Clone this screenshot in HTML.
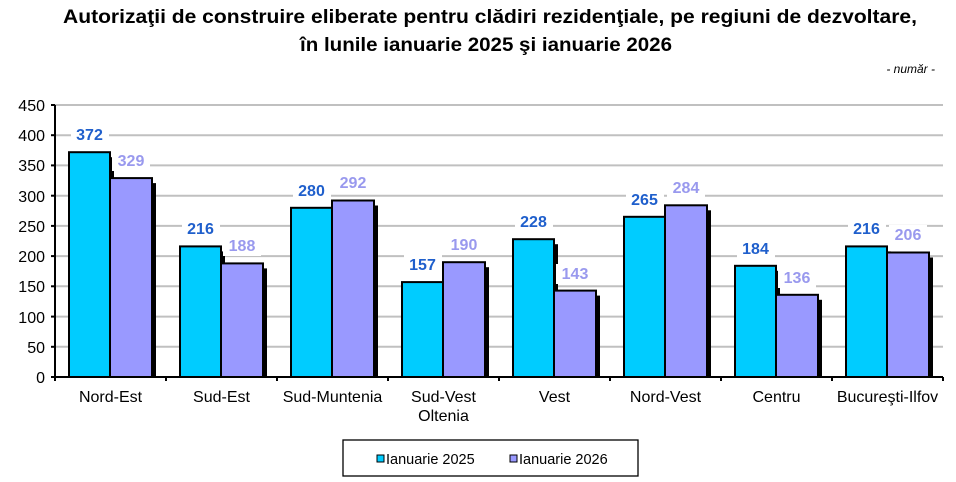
<!DOCTYPE html>
<html><head><meta charset="utf-8"><style>body{margin:0;background:#fff}svg{display:block}</style></head><body>
<svg width="956" height="482" xmlns="http://www.w3.org/2000/svg" font-family="Liberation Sans, Arial, sans-serif">
<text x="490" y="23" text-anchor="middle" font-weight="bold" font-size="19" textLength="854" lengthAdjust="spacingAndGlyphs">Autorizaţii de construire eliberate pentru clădiri rezidenţiale, pe regiuni de dezvoltare,</text>
<text x="486" y="51" text-anchor="middle" font-weight="bold" font-size="19" textLength="372" lengthAdjust="spacingAndGlyphs">în lunile ianuarie 2025 şi ianuarie 2026</text>
<text x="935" y="73" text-anchor="end" font-style="italic" font-size="12">- număr -</text>
<g stroke="#c0c0c0" stroke-width="2">
<line x1="55" x2="943" y1="105" y2="105"/><line x1="55" x2="943" y1="135.2" y2="135.2"/><line x1="55" x2="943" y1="165.4" y2="165.4"/><line x1="55" x2="943" y1="195.7" y2="195.7"/><line x1="55" x2="943" y1="225.9" y2="225.9"/><line x1="55" x2="943" y1="256.1" y2="256.1"/><line x1="55" x2="943" y1="286.3" y2="286.3"/><line x1="55" x2="943" y1="316.6" y2="316.6"/><line x1="55" x2="943" y1="346.8" y2="346.8"/>
</g>
<g font-size="16" text-anchor="end">
<text x="45" y="111">450</text><text x="45" y="141">400</text><text x="45" y="171">350</text><text x="45" y="202">300</text><text x="45" y="232">250</text><text x="45" y="262">200</text><text x="45" y="292">150</text><text x="45" y="323">100</text><text x="45" y="353">50</text><text x="45" y="383">0</text>
</g>
<!-- shadows -->
<g fill="#000">
<rect x="73" y="157.2" width="41" height="219.8"/><rect x="114" y="183.1" width="42" height="193.9"/>
<rect x="184" y="251.4" width="41" height="125.6"/><rect x="225" y="268.4" width="42" height="108.6"/>
<rect x="295" y="212.8" width="41" height="164.2"/><rect x="336" y="205.5" width="42" height="171.5"/>
<rect x="406" y="287.1" width="41" height="89.9"/><rect x="447" y="267.2" width="42" height="109.8"/>
<rect x="517" y="244.2" width="41" height="132.8"/><rect x="558" y="295.6" width="42" height="81.4"/>
<rect x="628" y="221.8" width="41" height="155.2"/><rect x="669" y="210.3" width="42" height="166.7"/>
<rect x="739" y="270.8" width="41" height="106.2"/><rect x="780" y="299.8" width="42" height="77.2"/>
<rect x="850" y="251.4" width="41" height="125.6"/><rect x="891" y="257.5" width="42" height="119.5"/>
</g>
<g stroke="#000" stroke-width="2">
<g fill="#00ccff">
<rect x="69" y="152.2" width="41" height="224.8"/><rect x="180" y="246.4" width="41" height="130.6"/><rect x="291" y="207.8" width="41" height="169.2"/><rect x="402" y="282.1" width="41" height="94.9"/><rect x="513" y="239.2" width="41" height="137.8"/><rect x="624" y="216.8" width="41" height="160.2"/><rect x="735" y="265.8" width="41" height="111.2"/><rect x="846" y="246.4" width="41" height="130.6"/>
</g>
<g fill="#9999ff">
<rect x="110" y="178.1" width="42" height="198.9"/><rect x="221" y="263.4" width="42" height="113.6"/><rect x="332" y="200.5" width="42" height="176.5"/><rect x="443" y="262.2" width="42" height="114.8"/><rect x="554" y="290.6" width="42" height="86.4"/><rect x="665" y="205.3" width="42" height="171.7"/><rect x="776" y="294.8" width="42" height="82.2"/><rect x="887" y="252.5" width="42" height="124.5"/>
</g>
</g>
<g fill="#fff">
<rect x="71" y="125" width="38" height="20"/><rect x="112" y="151" width="38" height="20"/>
<rect x="182" y="219" width="38" height="20"/><rect x="223" y="236" width="38" height="20"/>
<rect x="293" y="181" width="38" height="20"/><rect x="334" y="173" width="38" height="20"/>
<rect x="404" y="255" width="38" height="20"/><rect x="445" y="235" width="38" height="20"/>
<rect x="515" y="212" width="38" height="20"/><rect x="556" y="264" width="38" height="20"/>
<rect x="626" y="190" width="38" height="20"/><rect x="667" y="178" width="38" height="20"/>
<rect x="737" y="239" width="38" height="20"/><rect x="778" y="268" width="38" height="20"/>
<rect x="848" y="219" width="38" height="20"/><rect x="889" y="225" width="38" height="20"/>
</g>
<g font-size="16" font-weight="bold" text-anchor="middle">
<g fill="#1f5fcc">
<text x="89.5" y="140">372</text><text x="200.5" y="234">216</text><text x="311.5" y="196">280</text><text x="422.5" y="270">157</text><text x="533.5" y="227">228</text><text x="644.5" y="205">265</text><text x="755.5" y="254">184</text><text x="866.5" y="234">216</text>
</g>
<g fill="#9999ee">
<text x="131" y="166">329</text><text x="242" y="251">188</text><text x="353" y="188">292</text><text x="464" y="250">190</text><text x="575" y="279">143</text><text x="686" y="193">284</text><text x="797" y="283">136</text><text x="908" y="240">206</text>
</g>
</g>
<g stroke="#000" stroke-width="2">
<line x1="55" x2="55" y1="105" y2="381"/><line x1="51" x2="55" y1="105" y2="105"/><line x1="51" x2="55" y1="135.2" y2="135.2"/><line x1="51" x2="55" y1="165.4" y2="165.4"/><line x1="51" x2="55" y1="195.7" y2="195.7"/><line x1="51" x2="55" y1="225.9" y2="225.9"/><line x1="51" x2="55" y1="256.1" y2="256.1"/><line x1="51" x2="55" y1="286.3" y2="286.3"/><line x1="51" x2="55" y1="316.6" y2="316.6"/><line x1="51" x2="55" y1="346.8" y2="346.8"/>
<line x1="51" x2="943" y1="377" y2="377"/>
<line x1="166" x2="166" y1="377" y2="381"/><line x1="277" x2="277" y1="377" y2="381"/><line x1="388" x2="388" y1="377" y2="381"/><line x1="499" x2="499" y1="377" y2="381"/><line x1="610" x2="610" y1="377" y2="381"/><line x1="721" x2="721" y1="377" y2="381"/><line x1="832" x2="832" y1="377" y2="381"/><line x1="943" x2="943" y1="377" y2="381"/>
</g>
<g font-size="16" text-anchor="middle">
<text x="110.5" y="402">Nord-Est</text><text x="221.5" y="402">Sud-Est</text><text x="332.5" y="402">Sud-Muntenia</text><text x="443.5" y="402">Sud-Vest</text><text x="443.5" y="421">Oltenia</text><text x="554.5" y="402">Vest</text><text x="665.5" y="402">Nord-Vest</text><text x="776.5" y="402">Centru</text><text x="887.5" y="402">Bucureşti-Ilfov</text>
</g>
<rect x="343" y="440" width="295" height="36" fill="#fff" stroke="#000" stroke-width="1.3"/>
<rect x="377" y="455" width="7" height="7" fill="#00ccff" stroke="#000" stroke-width="1"/>
<text x="386" y="464" font-size="14.5">Ianuarie 2025</text>
<rect x="510" y="455" width="7" height="7" fill="#9999ff" stroke="#000" stroke-width="1"/>
<text x="519" y="464" font-size="14.5">Ianuarie 2026</text>
</svg>
</body></html>
